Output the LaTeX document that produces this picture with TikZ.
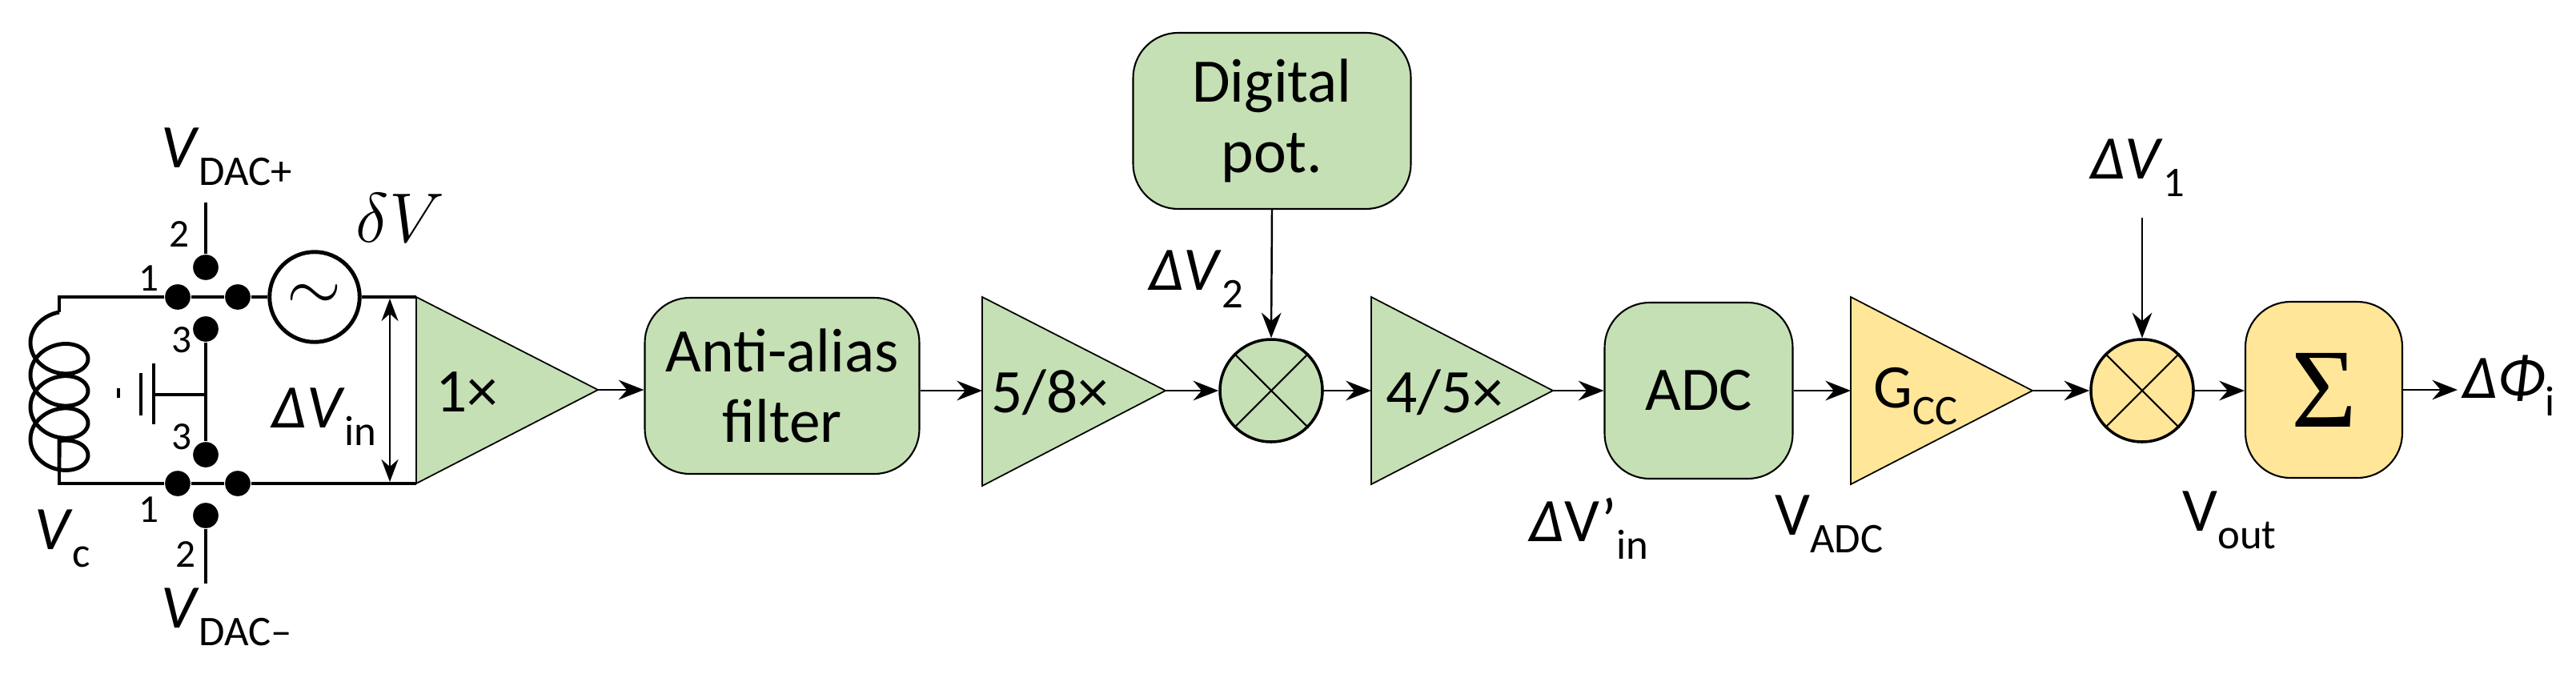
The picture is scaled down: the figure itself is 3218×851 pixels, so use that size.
\documentclass[tikz,border=0pt]{standalone}
\usepackage{fontspec}
\setmainfont{Carlito}
\newfontfamily\sigfont{Liberation Serif}
\usetikzlibrary{arrows.meta}
\definecolor{gfill}{HTML}{C5E0B4}
\definecolor{yfill}{HTML}{FFE699}
\newcommand{\lsub}[1]{\raisebox{-0.28em}{\fontsize{15}{15}\selectfont #1}}
\begin{document}
\begin{tikzpicture}[x=0.01cm,y=-0.01cm,
  txt/.style={font=\fontsize{22}{25}\selectfont, inner sep=0pt, align=center},
  pin/.style={font=\fontsize{14}{15}\selectfont, inner sep=0pt},
  wire/.style={line width=1.4pt},
  conn/.style={line width=0.7pt,-{Stealth[length=9pt,width=7pt,inset=3pt]}},
  blk/.style={draw, line width=0.6pt, rounded corners=16pt},
  tri/.style={draw, line width=0.5pt},
  dot/.style={circle, fill=black, inner sep=0pt, minimum size=9pt},
  mult/.style={circle, draw, line width=1pt, minimum size=36pt, inner sep=0pt}]
\useasboundingbox (0,0) rectangle (3218,851);

% ---- input circuit ----
\node[dot] (d1t) at (222,371) {};
\node[dot] (drt) at (297,371) {};
\node[dot] (d2t) at (257,334) {};
\node[dot] (d3t) at (257,411) {};
\node[dot] (d3b) at (257,568) {};
\node[dot] (d1b) at (222,604) {};
\node[dot] (drb) at (297,604) {};
\node[dot] (d2b) at (257,644) {};
\coordinate (tl) at (74,371);
\coordinate (bl) at (74,604);
\coordinate (c1) at (74,390);
\coordinate (c2) at (74,588);
\coordinate (v2t) at (257,253);
\coordinate (v2b) at (257,729);
\coordinate (gnd) at (192,493);
\node[circle, draw, line width=1.4pt, minimum size=32pt, inner sep=0pt,
      font=\fontsize{26}{26}\selectfont] (src) at (393,371) {$\sim$};
\coordinate (ti) at (520,371);
\coordinate (bi) at (520,604);

\draw[wire] (d1t) -- (tl) -- (c1);
\draw[wire] plot[domain=0:25.1327, samples=240, smooth, variable=\t]
  ({74 - 36*sin(\t r)}, {390 + 6.4*\t + 28*(1-cos(\t r))}) -- (c2);
\draw[wire] (c2) -- (bl) -- (d1b);
\draw[wire] (d1t) -- (drt) -- (src) -- (ti);
\draw[wire] (d1b) -- (drb) -- (bi);
\draw[wire] (d2t) -- (v2t);
\draw[wire] (d2b) -- (v2b);
\draw[wire] (d3t) -- (d3b);
\draw[wire] (257,493) -- (gnd);
\draw[wire] (192,454) -- (192,530);
\draw[wire] (176,466) -- (176,519);
\draw[wire] (148,485) -- (148,497);
\draw[line width=0.6pt, {Stealth[length=8pt,width=6pt]}-{Stealth[length=8pt,width=6pt]}] (487,373) -- (487,602);

\node[txt] at (283,196) {\textit{V}\lsub{DAC+}};
\node[txt] at (283,771) {\textit{V}\lsub{DAC–}};
\node[txt, font=\fontsize{26}{26}\selectfont] at (500,272) {$\delta V$};
\node[txt] at (78,673) {\textit{V}\lsub{c}};
\node[txt] at (405,521) {\textit{ΔV}\lsub{in}};
\node[pin] at (186,348) {1};
\node[pin] at (224,293) {2};
\node[pin] at (227,425) {3};
\node[pin] at (227,546) {3};
\node[pin] at (186,637) {1};
\node[pin] at (232,693) {2};

% ---- amplifier 1x ----
\draw[tri, fill=gfill] (520,371) -- (747,487) -- (520,604) -- cycle;
\coordinate (a1o) at (747,487);
\node[txt] (a1) at (583,490) {1×};

% ---- anti-alias ----
\node[blk, fill=gfill, minimum width=343*0.01cm, minimum height=220*0.01cm, txt] (aa) at (977,482) {Anti-alias\\filter};

% ---- 5/8 ----
\draw[tri, fill=gfill] (1227,371) -- (1456,488) -- (1227,607) -- cycle;
\coordinate (a2i) at (1227,488);
\coordinate (a2o) at (1456,488);
\node[txt] (a2) at (1312,490) {5/8×};

% ---- multiplier 1 ----
\node[mult, fill=gfill, minimum size=128*0.01cm] (m1) at (1588,488) {};
\draw[line width=0.6pt] (m1.45) -- (m1.225) (m1.135) -- (m1.315);
\node[blk, fill=gfill, minimum width=347*0.01cm, minimum height=220*0.01cm, txt] (dp) at (1589,151) {Digital\\pot.};
\node[txt] at (1494,349) {\textit{ΔV}\lsub{2}};

% ---- 4/5 ----
\draw[tri, fill=gfill] (1713,371) -- (1940,488) -- (1713,605) -- cycle;
\coordinate (a3i) at (1713,488);
\coordinate (a3o) at (1940,488);
\node[txt] (a3) at (1805,490) {4/5×};
\node[txt] at (1985,660) {\textit{Δ}V’\lsub{in}};

% ---- ADC ----
\node[blk, fill=gfill, minimum width=235*0.01cm, minimum height=220*0.01cm, txt] (adc) at (2122,488) {ADC};
\node[txt] at (2285,655) {V\lsub{ADC}};

% ---- Gcc ----
\draw[tri, fill=yfill] (2312,371) -- (2539,488) -- (2312,605) -- cycle;
\coordinate (a4i) at (2312,488);
\coordinate (a4o) at (2539,488);
\node[txt] (a4) at (2393,495) {G\lsub{CC}};

% ---- multiplier 2 ----
\node[mult, fill=yfill, minimum size=128*0.01cm] (m2) at (2676,488) {};
\draw[line width=0.6pt] (m2.45) -- (m2.225) (m2.135) -- (m2.315);
\coordinate (v1s) at (2676,272);
\node[txt] at (2670,210) {\textit{ΔV}\lsub{1}};
\node[txt] at (2785,650) {V\lsub{out}};

% ---- Sigma ----
\node[blk, fill=yfill, minimum width=196*0.01cm, minimum height=220*0.01cm, inner sep=0pt, font=\sigfont\fontsize{40}{40}\selectfont] (sg) at (2903,487) {Σ};
\coordinate (out) at (3070,487);
\node[txt, anchor=west] at (3076,482) {\textit{ΔΦ}\lsub{i}};

% ---- connectors ----
\draw[conn] (a1o) -- (aa.west |- a1o);
\draw[conn] (aa.east |- a2i) -- (a2i);
\draw[conn] (a2o) -- (m1.west);
\draw[conn] (m1.east) -- (a3i);
\draw[conn] (a3o) -- (adc.west |- a3o);
\draw[conn] (adc.east |- a4i) -- (a4i);
\draw[conn] (a4o) -- (m2.west);
\draw[conn] (m2.east) -- (sg.west |- m2.east);
\draw[conn] (sg.east) -- (out);
\draw[conn] (dp.south) -- (m1.north);
\draw[conn] (v1s) -- (m2.north);
\end{tikzpicture}
\end{document}
